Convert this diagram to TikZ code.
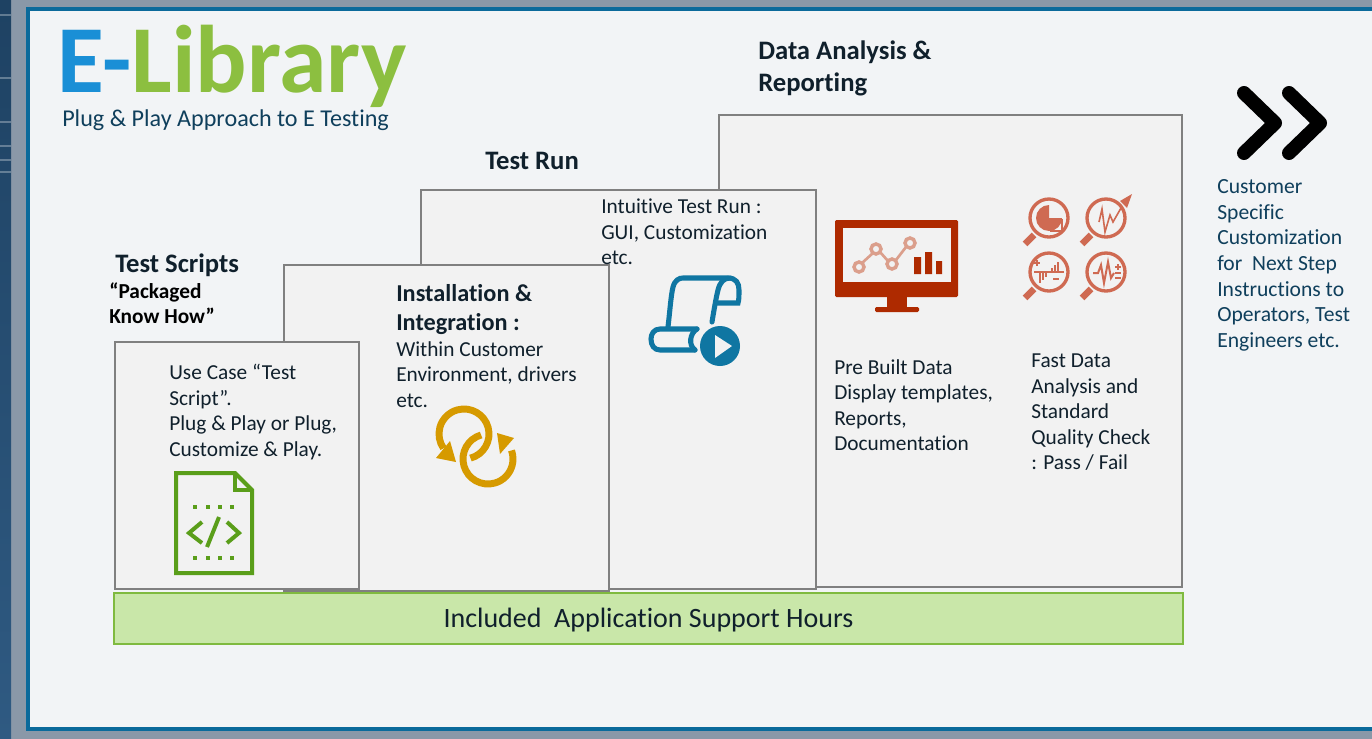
\documentclass[tikz,border=0pt]{standalone}
\usepackage{fontspec}
\setmainfont{Carlito}[Ligatures={NoCommon}]
\usetikzlibrary{positioning}
\definecolor{darkcol}{HTML}{2F5A82}
\definecolor{darktop}{HTML}{1E4263}
\definecolor{backcol}{HTML}{8A98A8}
\definecolor{framecol}{HTML}{0B6A9B}
\definecolor{panelcol}{HTML}{F2F4F6}
\definecolor{boxcol}{HTML}{F2F2F2}
\definecolor{inkcol}{HTML}{10202C}
\definecolor{subcol}{HTML}{0F3F5C}
\definecolor{teecol}{HTML}{1A8FD6}
\definecolor{libcol}{HTML}{8CBF40}
\definecolor{bandcol}{HTML}{C9E7A9}
\definecolor{bandline}{HTML}{7FBA3F}
\definecolor{doccol}{HTML}{5A9E1A}
\definecolor{ringcol}{HTML}{D69A00}
\definecolor{playcol}{HTML}{0F76A2}
\definecolor{moncol}{HTML}{AE2A00}
\definecolor{lenscol}{HTML}{CF6A52}
\newcommand{\px}{0.75pt}
\begin{document}
\begin{tikzpicture}[x=0.75pt,y=-0.75pt]
	\tikzstyle{box}=[rectangle, draw=black!50, line width=1.2pt, fill=boxcol, inner sep=0pt, outer sep=0pt, anchor=north west]
	\tikzstyle{txt}=[inner sep=0pt, align=left, text=inkcol, font=\fontsize{16}{19.1}\selectfont]
	\tikzstyle{head}=[inner sep=0pt, align=left, text=inkcol, font=\fontsize{20}{24}\selectfont\bfseries]
	\tikzstyle{side}=[inner sep=0pt, align=left, text=subcol, font=\fontsize{16.2}{19.3}\selectfont]
	\tikzstyle{lens}=[draw=lenscol, line width=2.5pt]
	\useasboundingbox (0,0) rectangle (1372,739);
	% backdrop and panel
	\fill[backcol] (0,0) rectangle (1372,739);
	\fill[top color=darktop, bottom color=darkcol] (0,0) rectangle (11,739);
	\foreach \yy in {15,78,122,146,160,172}
		\draw[white, opacity=0.3, line width=1pt] (0,\yy) -- (11,\yy);
	\fill[panelcol] (28,9) rectangle (1372,729);
	\draw[framecol, line width=3pt] (1372,9) -- (28,9) -- (28,729) -- (1372,729);
	% the four steps, back to front
	\node[box, minimum width=463*\px, minimum height=472*\px] (report) at (719,115) {};
	\node[box, minimum width=395*\px, minimum height=399*\px] (run) at (421,190) {};
	\node[box, minimum width=325*\px, minimum height=326*\px] (install) at (284,265) {};
	\node[box, minimum width=244*\px, minimum height=247*\px] (scripts) at (115,342) {};
	\node[rectangle, draw=bandline, line width=2pt, fill=bandcol, inner sep=0pt, outer sep=0pt, minimum width=1069*\px, minimum height=51*\px, anchor=north west, font=\fontsize{21}{25}\selectfont, text=inkcol, text height=18.5pt, text depth=4.5pt] (support) at (114,593) {Included\ \ Application Support Hours};
	% title
	\node[inner sep=0pt, anchor=base west, font=\fontsize{72}{80}\selectfont\bfseries] (title) at (57,92.5) {\textcolor{teecol}{E-}\textcolor{libcol}{Library}};
	\node[inner sep=0pt, anchor=base west, text=subcol, font=\fontsize{18.1}{22}\selectfont] (subtitle) at (62,126) {Plug \& Play Approach to E Testing};
	% headings
	\node[head, anchor=north west] (scriptshead) at (115,254) {Test Scripts};
	\node[inner sep=0pt, align=left, text=black, font=\fontsize{16}{18.8}\selectfont\bfseries, anchor=north west] (knowhow) at (109,282) {“Packaged\\Know How”};
	\node[head, anchor=north west] (runhead) at (485,152) {Test Run};
	\node[head, anchor=north west] (reporthead) at (758,41) {Data Analysis \&\\Reporting};
	\node[head, anchor=north west, font=\fontsize{18.2}{22}\selectfont\bfseries] (installhead) at (396,284) {Installation \&\\Integration :};
	% body texts
	\node[txt, anchor=north west] (scriptstxt) at (169,364) {Use Case “Test\\Script”.\\Plug \& Play or Plug,\\Customize \& Play.};
	\node[txt, anchor=north west] (installtxt) at (396,341) {Within Customer\\Environment, drivers\\etc.};
	\node[txt, anchor=north west] (runtxt) at (601,199) {Intuitive Test Run :\\GUI, Customization\\etc.};
	\node[txt, anchor=north west] (templatetxt) at (834,359) {Pre Built Data\\Display templates,\\Reports,\\Documentation};
	\node[txt, anchor=north west] (checktxt) at (1031,354) {Fast Data\\Analysis and\\Standard\\Quality Check\\: Pass / Fail};
	\node[side, anchor=north west] (sidetxt) at (1217,179) {Customer\\Specific\\Customization\\for\ \ Next Step\\Instructions to\\Operators, Test\\Engineers etc.};
	% next step chevrons
	\draw[black, line width=10.5pt, line cap=round, line join=round] (1244,93) -- (1275,123) -- (1244,153);
	\draw[black, line width=10.5pt, line cap=round, line join=round] (1289,93) -- (1320,123) -- (1289,153);
	% script icon
	\draw[doccol, line width=3pt] (176,473) -- (235,473) -- (252,490) -- (252,573) -- (176,573) -- cycle;
	\draw[doccol, line width=2.5pt] (235,473) -- (235,490) -- (252,490);
	\foreach \yy in {507,558} \foreach \xx in {195,208,220,232}
		\fill[doccol] (\xx-2,\yy-2) rectangle (\xx+2,\yy+2);
	\draw[doccol, line width=3pt] (202,522) -- (189,533) -- (202,543);
	\draw[doccol, line width=3pt] (227,522) -- (239,533) -- (227,543);
	\draw[doccol, line width=3pt] (219,517) -- (207,547);
	% linked rings icon
	\draw[ringcol, line width=5.2pt] (464,434) ++(75:25) arc[start angle=75, end angle=-215, radius=25];
	\draw[ringcol, line width=5.2pt] (488,459) ++(-106:25) arc[start angle=-106, end angle=-380, radius=25];
	\fill[ringcol] (436,458) -- (456,462) -- (450,441) -- cycle;
	\fill[ringcol] (514,438) -- (497,433) -- (500,454) -- cycle;
	% scroll icon
	\draw[playcol, line width=3.8pt, line cap=round] (668,327) .. controls (670,310) and (671,295) .. (673,287) .. controls (675,280) and (679,278) .. (683,278) -- (728,278) .. controls (736,278) and (739,283) .. (739,290) .. controls (739,296) and (739,300) .. (738,303) -- (716,303);
	\draw[playcol, line width=3.8pt, line cap=round] (712,322) .. controls (714,310) and (716,298) .. (718,290) .. controls (720,282) and (724,278) .. (730,278);
	\draw[playcol, line width=3.8pt, line cap=round] (697,329) -- (660,329) .. controls (654,329) and (651,334) .. (651,339) .. controls (651,345) and (654,350) .. (660,350) -- (695,350);
	\draw[playcol, line width=3.8pt, line cap=round] (697,329) .. controls (690,333) and (688,345) .. (695,350);
	\fill[playcol] (720,346) circle[radius=20];
	\fill[boxcol] (715,335) -- (732,346) -- (715,358) -- cycle;
	% monitor icon
	\fill[moncol, rounded corners=1pt] (835,220) rectangle (958,297);
	\fill[boxcol] (843,228) rectangle (951,282);
	\fill[moncol] (887,297) rectangle (907,308);
	\fill[moncol, rounded corners=1pt] (875,307) rectangle (919,312);
	\draw[moncol!45!white, line width=2.6pt] (859,267) circle[radius=5] (876,249) circle[radius=5] (892,264) circle[radius=5] (910,243) circle[radius=5];
	\draw[moncol!45!white, line width=2pt] (862,263) -- (873,253) (880,252) -- (888,261) (896,260) -- (906,247);
	\fill[moncol] (914,257) rectangle (921,274) (925,252) rectangle (932,274) (936,261) rectangle (942,274);
	% magnifier icons
	\foreach \xx/\yy in {1049/218,1106/218,1049/272,1106/272} {
		\draw[lens] (\xx,\yy) circle[radius=19];
		\draw[lenscol, line width=5pt] (\xx-15,\yy+17) -- (\xx-24,\yy+26);
	}
	\fill[lenscol] (1049,218) -- (1049,205) arc[start angle=-90, end angle=-360, radius=13] -- cycle;
	\draw[lenscol, line width=1pt] (1051,220) rectangle (1062,231);
	\draw[lenscol, line width=1.2pt] (1099,222) -- (1102,209) -- (1105,232) -- (1110,215) -- (1113,222) -- (1121,208);
	\fill[lenscol] (1132,194) -- (1120,201) -- (1127,208) -- cycle;
	\draw[lenscol, line width=1pt] (1034,272) -- (1064,272);
	\draw[lenscol, line width=1.5pt] (1040,273) -- (1040,283) (1043,273) -- (1043,280) (1046,273) -- (1046,277) (1052,271) -- (1052,268) (1055,271) -- (1055,265) (1058,271) -- (1058,262) (1034,263) -- (1040,263) (1037,260) -- (1037,266) (1053,279) -- (1059,279);
	\draw[lenscol, line width=1.5pt] (1093,273) -- (1098,273) -- (1101,265) -- (1104,283) -- (1108,262) -- (1111,278) -- (1114,273);
	\draw[lenscol, line width=1pt] (1115,267) -- (1121,267) (1118,264) -- (1118,270) (1115,273) -- (1121,273) (1115,278) -- (1121,278);
\end{tikzpicture}
\end{document}
